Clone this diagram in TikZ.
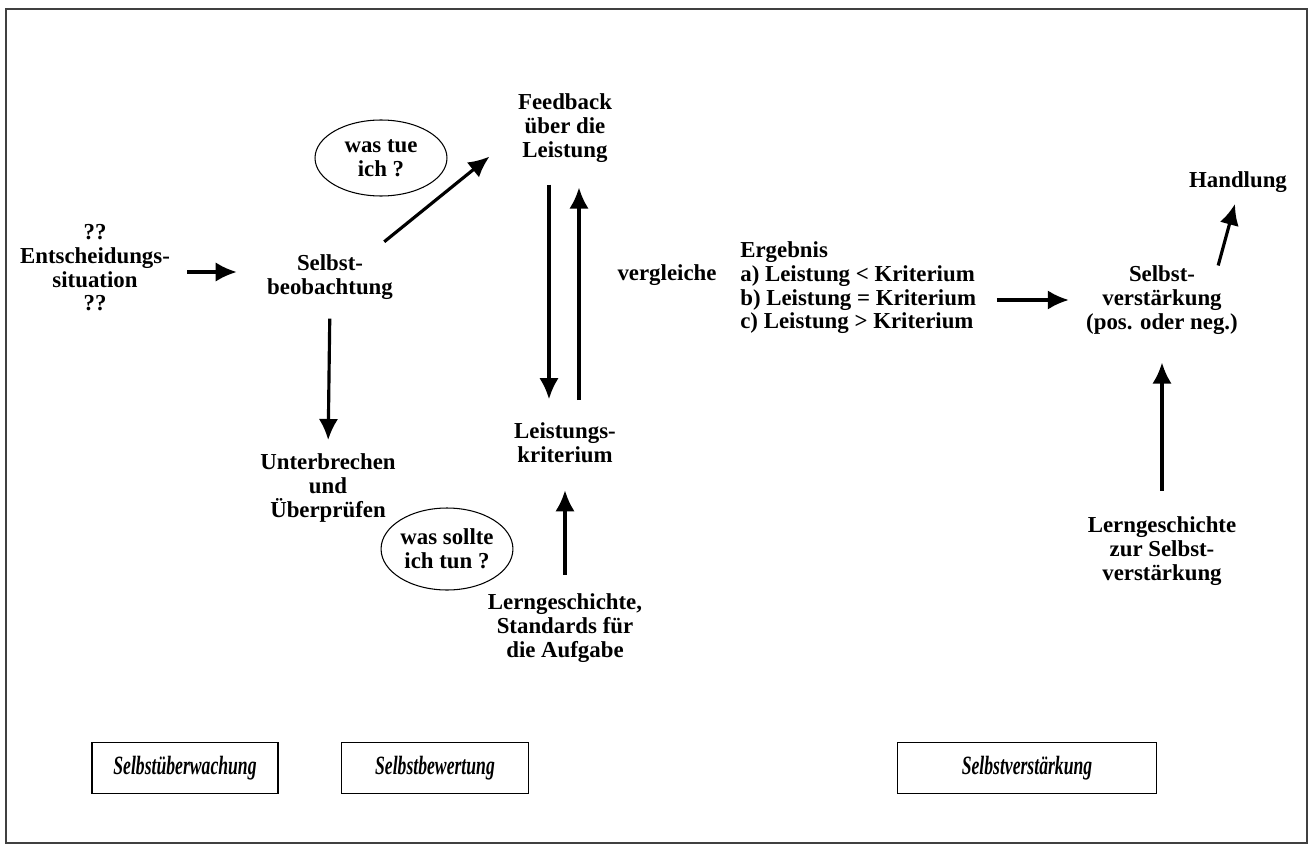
\documentclass[tikz,border=0pt]{standalone}
\usepackage{fontspec}
\setmainfont{Liberation Serif}
\newfontfamily\kursiv{Liberation Serif}[FakeStretch=0.67]
\usepackage{tikz}
\usetikzlibrary{arrows.meta}
\usetikzlibrary{shapes.geometric}

\begin{document}
\begin{tikzpicture}[x=0.02cm,y=-0.02cm,
  txt/.style={inner sep=0pt,align=center,font=\fontsize{13}{13.5}\selectfont\bfseries},
  pfeil/.style={line width=1.8pt,-{Latex[length=12pt,width=11pt]}},
  blase/.style={txt,draw,ellipse,line width=0.6pt},
  kasten/.style={draw,line width=0.8pt,minimum height=1.02cm,
    font=\kursiv\fontsize{15}{16}\selectfont\bfseries\itshape}]
\useasboundingbox (0,0) rectangle (1312,848);
\draw[line width=1pt,black!75] (6,9) rectangle (1307,843);

% Selbstueberwachung
\node[txt] (sit) at (95,268) {??\\Entscheidungs-\\situation\\??};
\node[txt] (beob) at (330,277) {Selbst-\\beobachtung};
\node[blase,minimum width=2.64cm,minimum height=1.52cm] (tue) at (381,158) {was tue\\ich ?};
\node[txt] (unter) at (328,488) {Unterbrechen\\und\\Überprüfen};
\node[blase,minimum width=2.62cm,minimum height=1.64cm] (sollte) at (447,549) {was sollte\\ich tun ?};

% Selbstbewertung
\node[txt] (feed) at (565,128) {Feedback\\über die\\Leistung};
\node[txt] (krit) at (565,443) {Leistungs-\\kriterium};
\node[txt] (stand) at (565,628) {Lerngeschichte,\\Standards für\\die Aufgabe};
\node[txt] (vergl) at (667,275) {vergleiche};
\node[txt,align=left,anchor=west] (erg) at (740,288)
  {Ergebnis\\a) Leistung < Kriterium\\b) Leistung = Kriterium\\c) Leistung > Kriterium};

% Selbstverstaerkung
\node[txt] (verst) at (1162,300) {Selbst-\\verstärkung\\(pos. oder neg.)};
\node[txt] (hand) at (1238,182) {Handlung};
\node[txt] (lernv) at (1162,551) {Lerngeschichte\\zur Selbst-\\verstärkung};

\node[kasten,minimum width=3.72cm] (sue) at (185,768) {Selbstüberwachung};
\node[kasten,minimum width=3.74cm] (sbw) at (435,768) {Selbstbewertung};
\node[kasten,minimum width=5.18cm] (sv) at (1027,768) {Selbstverstärkung};

\draw[pfeil,shorten <=0.34cm,shorten >=0.6cm] ([yshift=-0.08cm]sit.east) -- ([yshift=-0.08cm]sit.east -| beob.west);
\draw[pfeil,shorten <=0.4cm,shorten >=0.16cm] ([xshift=-0.49cm]beob.north east) -- ([xshift=-0.44cm,yshift=0.22cm]feed.south west);
\draw[pfeil,shorten <=0.38cm,shorten >=0.27cm] (beob.south) -- (unter.north);
\draw[pfeil,shorten <=0.44cm,shorten >=0.47cm] ([xshift=-0.32cm]feed.south) -- ([xshift=-0.32cm]krit.north);
\draw[pfeil,shorten <=0.45cm,shorten >=0.5cm] ([xshift=0.28cm]krit.north) -- ([xshift=0.28cm]feed.south);
\draw[pfeil,shorten <=0.37cm,shorten >=0.54cm] (stand.north) -- (krit.south);
\draw[pfeil,shorten <=0.41cm,shorten >=0.34cm] ([yshift=-0.24cm]erg.east) -- ([yshift=-0.24cm]erg.east -| verst.west);
\draw[pfeil,shorten >=0.23cm] ([xshift=-0.4cm]verst.north east) -- (hand.south);
\draw[pfeil,shorten <=0.51cm,shorten >=0.56cm] (lernv.north) -- (verst.south);
\end{tikzpicture}
\end{document}
